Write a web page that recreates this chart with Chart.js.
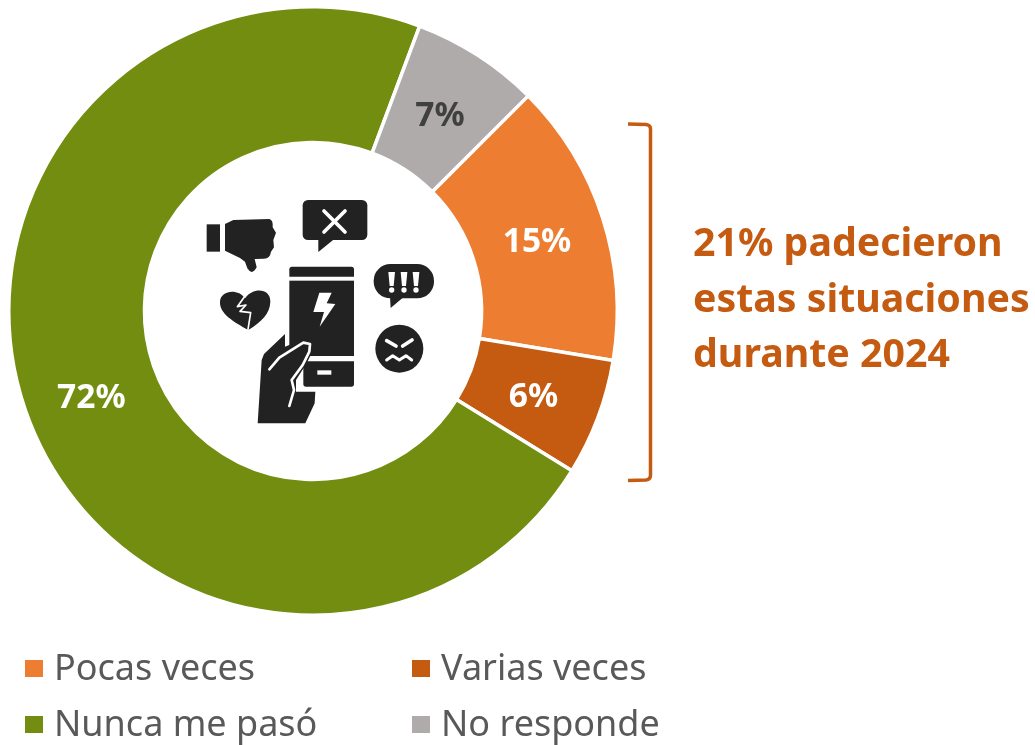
<!DOCTYPE html>
<html><head><meta charset="utf-8">
<script src="https://cdn.jsdelivr.net/npm/chart.js@4"></script>
<style>
html,body{margin:0;padding:0;background:#fff;width:1035px;height:745px;overflow:hidden}
#wrap{position:relative;width:1035px;height:745px}
canvas{position:absolute;left:0;top:0}
.t{position:absolute;white-space:nowrap;font-family:"Noto Sans",sans-serif}
.sw{position:absolute;width:18px;height:17px}
</style></head><body>
<div id="wrap"><canvas id="c" width="1035" height="745"></canvas></div>
<script>
const categories=["Pocas veces","Varias veces","Nunca me pasó","No responde"];
const values=[15.1,6.2,71.9,6.8];
const colors=["#ED7D31","#C55A11","#728D10","#AFABAB"];
const labelColors=["#ffffff","#ffffff","#ffffff","#404040"];
const labelNudgeX=[-1,-1,2,-1];
const labelNudgeY=[3,3,10,3];
const noteLines=["21% padecieron","estas situaciones","durante 2024"];
const ink="#222222";

const sliceLabels={id:"sliceLabels",afterDatasetsDraw(chart){
  const ctx=chart.ctx,arcs=chart.getDatasetMeta(0).data;
  ctx.save();ctx.font='700 33.5px "Noto Sans"';ctx.textAlign="center";ctx.textBaseline="middle";
  arcs.forEach((a,i)=>{const p=a.tooltipPosition();ctx.fillStyle=labelColors[i];
    ctx.fillText(Math.round(values[i])+"%",p.x+labelNudgeX[i],p.y+labelNudgeY[i]+1);});
  ctx.restore();}};

function rr(ctx,x,y,w,h,r){ctx.beginPath();ctx.roundRect(x,y,w,h,r);ctx.fill();}
function poly(ctx,pts){ctx.beginPath();pts.forEach((p,i)=>i?ctx.lineTo(p[0],p[1]):ctx.moveTo(p[0],p[1]));ctx.closePath();ctx.fill();}
function line(ctx,pts,w){ctx.lineWidth=w;ctx.lineCap="round";ctx.lineJoin="round";ctx.beginPath();pts.forEach((p,i)=>i?ctx.lineTo(p[0],p[1]):ctx.moveTo(p[0],p[1]));ctx.stroke();}

const centerIcon={id:"centerIcon",afterDraw(chart){
  const ctx=chart.ctx;ctx.save();ctx.translate(190,190);ctx.scale(1/3,1/3);
  ctx.fillStyle=ink;ctx.strokeStyle="#fff";
  // thumb down
  ctx.fillRect(50,103,40,82);
  ctx.beginPath();ctx.moveTo(105,102);ctx.lineTo(130,90);ctx.lineTo(238,87);ctx.quadraticCurveTo(250,90,248,112);
  ctx.lineTo(258,128);ctx.lineTo(250,150);ctx.lineTo(252,172);ctx.lineTo(243,185);ctx.quadraticCurveTo(240,206,222,206);ctx.lineTo(194,207);
  ctx.lineTo(200,232);ctx.quadraticCurveTo(186,258,172,235);ctx.lineTo(165,215);ctx.lineTo(150,204);ctx.lineTo(105,182);ctx.closePath();ctx.fill();
  // x bubble
  rr(ctx,338,30,194,120,16);poly(ctx,[[385,140],[385,186],[432,148]]);
  line(ctx,[[402,63],[465,126]],11);line(ctx,[[465,63],[402,126]],11);
  // phone
  ctx.beginPath();ctx.roundRect(298,230,194,30,[8,8,0,0]);ctx.fill();
  ctx.fillRect(298,272,194,226);
  ctx.beginPath();ctx.roundRect(340,514,152,76,[0,0,8,8]);ctx.fill();
  ctx.fillStyle="#fff";poly(ctx,[[388,308],[425,308],[410,340],[436,342],[389,410],[402,366],[370,366]]);
  ctx.fillRect(382,541,42,13);ctx.fillStyle=ink;
  // hand
  ctx.beginPath();ctx.moveTo(285,432);ctx.lineTo(285,470);ctx.lineTo(340,448);ctx.quadraticCurveTo(375,445,372,475);ctx.lineTo(350,520);ctx.lineTo(318,570);ctx.lineTo(318,605);ctx.lineTo(376,605);ctx.lineTo(374,640);ctx.lineTo(346,700);ctx.lineTo(203,700);ctx.lineTo(215,510);ctx.lineTo(222,492);ctx.closePath();ctx.fill();
  line(ctx,[[238,538],[268,503],[340,458],[360,462],[358,485],[338,525],[305,570],[312,600],[298,648]],8);
  // broken heart
  ctx.beginPath();ctx.moveTo(175,420);ctx.bezierCurveTo(130,395,88,370,90,335);ctx.bezierCurveTo(92,300,145,295,165,325);ctx.bezierCurveTo(190,290,242,295,241,335);ctx.bezierCurveTo(240,370,215,395,175,420);ctx.closePath();ctx.fill();
  line(ctx,[[165,318],[142,350],[168,345],[150,364],[182,368],[174,418]],5);
  // !!! bubble
  rr(ctx,551,222,181,103,50);poly(ctx,[[600,318],[602,354],[642,320]]);
  ctx.fillStyle="#fff";
  [605,642,678].forEach(x=>{poly(ctx,[[x-10,246],[x+10,246],[x+6,288],[x-6,288]]);ctx.beginPath();ctx.arc(x,300,8,0,Math.PI*2);ctx.fill();});
  // angry face
  ctx.fillStyle=ink;ctx.beginPath();ctx.arc(628,476,72,0,Math.PI*2);ctx.fill();
  line(ctx,[[590,452],[618,468]],11);line(ctx,[[666,450],[638,468]],11);
  line(ctx,[[590,510],[608,497],[628,510],[648,497],[665,510]],9);
  ctx.restore();}};

const bracket={id:"bracket",afterDraw(chart){
  const ctx=chart.ctx;ctx.save();ctx.strokeStyle="#C55A11";ctx.lineWidth=3.5;ctx.beginPath();
  ctx.moveTo(628,124);ctx.lineTo(646,124.5);ctx.quadraticCurveTo(650.5,125,650.5,129);ctx.lineTo(650.5,475);ctx.quadraticCurveTo(650.5,479.5,646,480);ctx.lineTo(628,480.5);ctx.stroke();ctx.restore();}};

new Chart(document.getElementById("c"),{type:"doughnut",
  data:{labels:categories,datasets:[{data:values,backgroundColor:colors,borderColor:"#fff",borderWidth:3.5}]},
  options:{responsive:false,animation:false,cutout:"55.4%",rotation:45,
    layout:{padding:{left:7,top:5,right:416,bottom:128}},
    plugins:{legend:{display:false},tooltip:{enabled:false}}},
  plugins:[sliceLabels,centerIcon,bracket]});

const wrap=document.getElementById("wrap");
function addText(s,x,base,size,weight,color){
  const d=document.createElement("div");d.className="t";d.textContent=s;
  d.style.cssText=`left:${x}px;top:${base-size*0.988}px;line-height:${size*1.2}px;font-size:${size}px;font-weight:${weight};color:${color};`;
  wrap.appendChild(d);
}
noteLines.forEach((s,i)=>addText(s,693,257+55.5*i,39.3,700,"#C55A11"));
const legX=[25,412],legY=[660,716];
categories.forEach((c,i)=>{
  const col=i%2,row=i>>1;
  const s=document.createElement("div");s.className="sw";
  s.style.left=legX[col]+"px";s.style.top=legY[row]+"px";s.style.background=colors[i];wrap.appendChild(s);
  addText(c,legX[col]+29,legY[row]+21,36,400,"#595959");
});
</script></body></html>
